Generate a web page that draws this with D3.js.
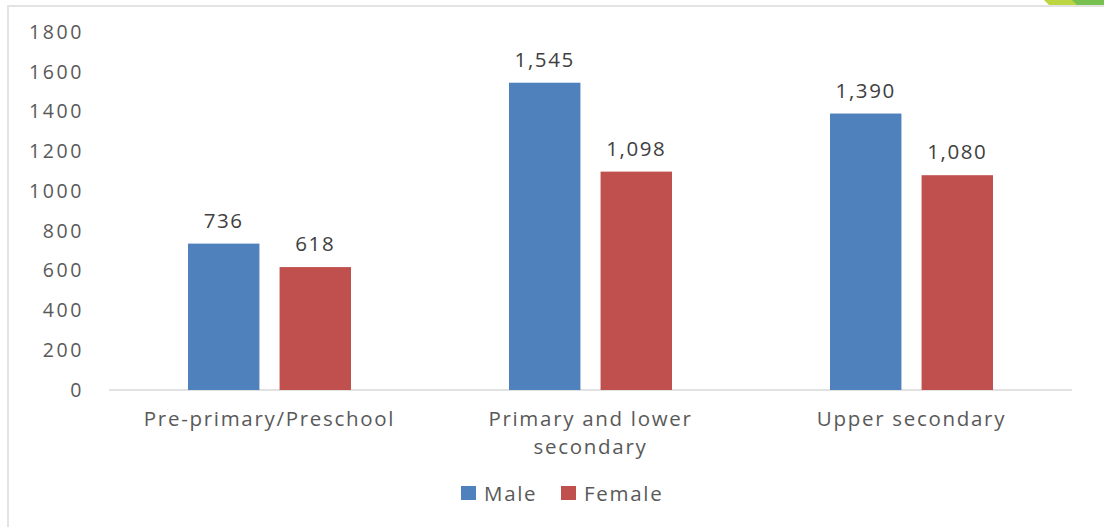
<!DOCTYPE html>
<html>
<head>
<meta charset="utf-8">
<script src="https://cdn.jsdelivr.net/npm/d3@7"></script>
<style>
  body { margin: 0; background: #fff; }
  svg text { font-family: "Open Sans", sans-serif; }
</style>
</head>
<body>
<svg id="chart" width="1104" height="527"></svg>
<script>
// data
var categories = ["Pre-primary/Preschool", "Primary and lower secondary", "Upper secondary"];
var series = ["Male", "Female"];
var maleValues = [736, 1545, 1390];
var femaleValues = [618, 1098, 1080];
var yTicks = [0, 200, 400, 600, 800, 1000, 1200, 1400, 1600, 1800];
var colors = {Male: "#4f81bd", Female: "#c0504d"};

var rows = categories.map(function(c, i) {
  return {cat: c, values: [
    {key: "Male", value: maleValues[i]},
    {key: "Female", value: femaleValues[i]}
  ]};
});

var svg = d3.select("#chart");

// frame bits (left + top rule, green corner)
svg.append("line").attr("x1", 8).attr("x2", 8).attr("y1", 5).attr("y2", 527)
    .attr("stroke", "#e3e3e3").attr("stroke-width", 2);
svg.append("line").attr("x1", 8).attr("x2", 1104).attr("y1", 6).attr("y2", 6)
    .attr("stroke", "#e3e3e3").attr("stroke-width", 2);
svg.append("polygon").attr("points", "1044,0 1074,0 1078,5 1049,5").attr("fill", "#bcd641");
svg.append("polygon").attr("points", "1072,0 1104,0 1104,5 1077,5").attr("fill", "#78c050");

var x0 = d3.scaleBand().domain(categories).range([109, 1072]);
var x1 = d3.scaleBand().domain(series).range([79, 242]).paddingInner(0.22);
var y = d3.scaleLinear().domain([0, 1800]).range([390, 32]);

// y axis labels
var yAxis = svg.append("g").attr("transform", "translate(84,0)")
    .call(d3.axisLeft(y).tickValues(yTicks).tickSize(0).tickPadding(0).tickFormat(d3.format("d")));
yAxis.select(".domain").remove();
yAxis.selectAll("text").attr("font-size", 19.5).attr("fill", "#595959")
    .style("letter-spacing", "2.6px").attr("font-family", "Open Sans");

// baseline
svg.append("line").attr("x1", 109).attr("x2", 1072).attr("y1", y(0)).attr("y2", y(0))
    .attr("stroke", "#d9d9d9").attr("stroke-width", 1.5);

var groups = svg.selectAll("g.cat").data(rows).enter().append("g")
    .attr("class", "cat")
    .attr("transform", function(d) { return "translate(" + x0(d.cat) + ",0)"; });

groups.selectAll("rect").data(function(d) { return d.values; }).enter().append("rect")
    .attr("x", function(d) { return x1(d.key); })
    .attr("y", function(d) { return y(d.value); })
    .attr("width", x1.bandwidth())
    .attr("height", function(d) { return y(0) - y(d.value); })
    .attr("fill", function(d) { return colors[d.key]; });

groups.selectAll("text.val").data(function(d) { return d.values; }).enter().append("text")
    .attr("class", "val")
    .attr("x", function(d) { return x1(d.key) + x1.bandwidth() / 2; })
    .attr("y", function(d) { return y(d.value) - 16; })
    .attr("text-anchor", "middle")
    .attr("font-size", 20.5)
    .attr("fill", "#404040")
    .style("letter-spacing", "1.6px")
    .text(function(d) { return d3.format(",")(d.value); });

// category labels, wrapped like the original
var catLines = {
  "Pre-primary/Preschool": ["Pre-primary/Preschool"],
  "Primary and lower secondary": ["Primary and lower", "secondary"],
  "Upper secondary": ["Upper secondary"]
};
groups.append("text")
    .attr("x", x0.bandwidth() / 2)
    .attr("y", 426)
    .attr("text-anchor", "middle")
    .attr("font-size", 20.5)
    .attr("fill", "#595959")
    .style("letter-spacing", "1.7px")
    .selectAll("tspan").data(function(d) { return catLines[d.cat]; }).enter().append("tspan")
    .attr("x", x0.bandwidth() / 2)
    .attr("dy", function(d, i) { return i ? 28 : 0; })
    .text(function(d) { return d; });

// legend
var legend = svg.append("g").attr("transform", "translate(461,486)");
var li = legend.selectAll("g").data(series).enter().append("g")
    .attr("transform", function(d, i) { return "translate(" + (i * 100) + ",0)"; });
li.append("rect").attr("width", 15).attr("height", 14)
    .attr("fill", function(d) { return colors[d]; });
li.append("text").attr("x", 23).attr("y", 15)
    .attr("font-size", 20.5).attr("fill", "#595959")
    .style("letter-spacing", "1.7px")
    .text(function(d) { return d; });
</script>
</body>
</html>
